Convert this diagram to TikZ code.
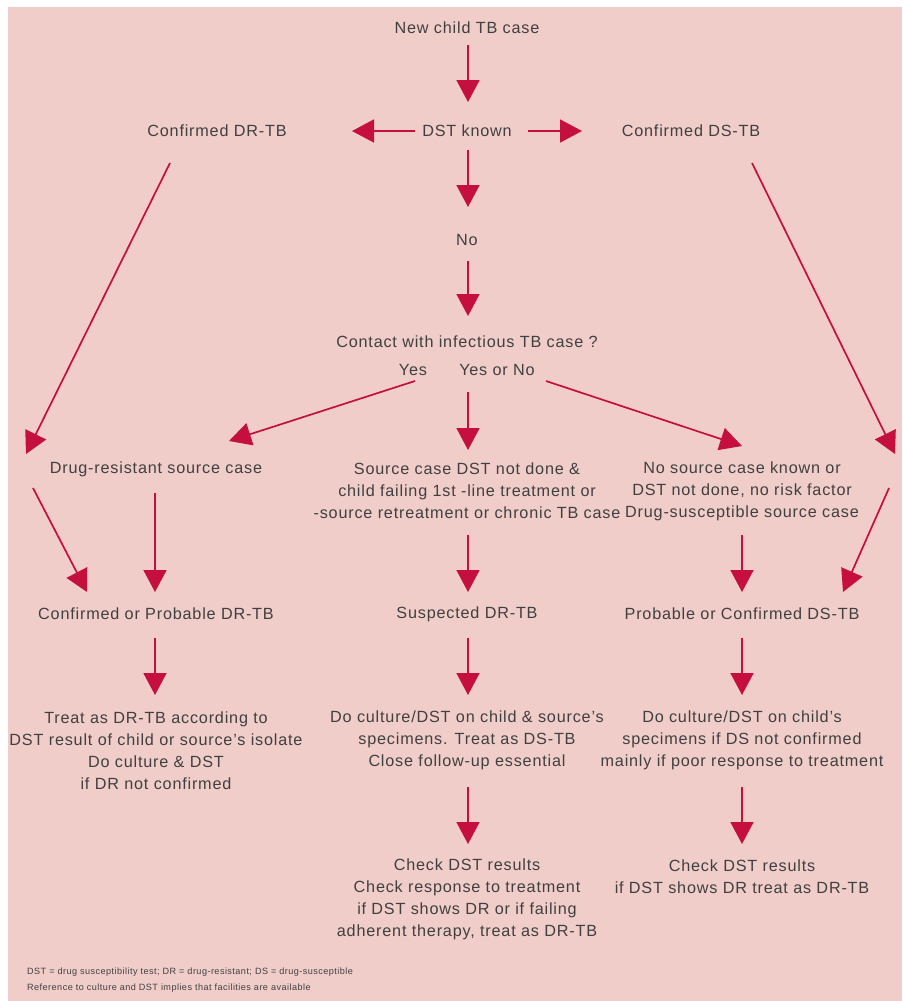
\documentclass[tikz,border=0pt]{standalone}
\usepackage{fontspec}
\setmainfont{Liberation Sans}[LetterSpace=5]
\usetikzlibrary{arrows.meta,calc}
\definecolor{bgpink}{HTML}{F0CDC9}
\definecolor{arrred}{HTML}{C40F3F}
\definecolor{txtgray}{HTML}{404040}
\begin{document}
\begin{tikzpicture}[x=1pt,y=-1pt,
  lbl/.style={text=txtgray,font=\fontsize{16.2}{22}\selectfont,inner sep=0pt,align=center},
  foot/.style={text=txtgray,font=\fontsize{9.1}{16}\selectfont,inner sep=0pt,align=left},
  arr/.style={draw=arrred,line width=1.7pt,-{Triangle[length=22pt,width=23pt]}}]
\useasboundingbox (0,0) rectangle (902,1001);
\fill[bgpink] (8,7) rectangle (902,1001);

\node[lbl] (new) at (467,28) {New child TB case};
\node[lbl] (dst) at (467,131) {DST known};
\node[lbl] (cdr) at (217,131) {Confirmed DR-TB};
\node[lbl] (cds) at (691,131) {Confirmed DS-TB};
\node[lbl] (no) at (467,240) {No};
\node[lbl] (contact) at (467,342) {Contact with infectious TB case ?};
\node[lbl] (yes) at (413,370) {Yes};
\node[lbl] (yesno) at (497,370) {Yes or No};
\node[lbl] (drs) at (156,469) {Drug-resistant source case};
\node[lbl] (sc) at (467,491) {Source case DST not done \&\\child failing 1st -line treatment or\\-source retreatment or chronic TB case};
\node[lbl] (nsc) at (742,491) {No source case known or\\DST not done, no risk factor\\Drug-susceptible source case};
\node[lbl] (cpdr) at (156,614) {Confirmed or Probable DR-TB};
\node[lbl] (sdr) at (467,614) {Suspected DR-TB};
\node[lbl] (pcds) at (742,614) {Probable or Confirmed DS-TB};
\node[lbl] (treat) at (156,751) {Treat as DR-TB according to\\DST result of child or source's isolate\\Do culture \& DST\\if DR not confirmed};
\node[lbl] (doc1) at (467,740) {Do culture/DST on child \& source's\\specimens. Treat as DS-TB\\Close follow-up essential};
\node[lbl] (doc2) at (742,740) {Do culture/DST on child's\\specimens if DS not confirmed\\mainly if poor response to treatment};
\node[lbl] (chk1) at (467,899) {Check DST results\\Check response to treatment\\if DST shows DR or if failing\\adherent therapy, treat as DR-TB};
\node[lbl] (chk2) at (742,877) {Check DST results\\if DST shows DR treat as DR-TB};
\node[foot,anchor=west] (fn) at (27,980) {DST = drug susceptibility test; DR = drug-resistant; DS = drug-susceptible\\Reference to culture and DST implies that facilities are available};

\draw[arr] ($(new)+(1,17)$) -- ($(dst)+(1,-29)$);
\draw[arr] ($(dst)+(-52,0)$) -- ($(cdr)+(135,0)$);
\draw[arr] ($(dst)+(61,0)$) -- ($(cds)+(-109,0)$);
\draw[arr] ($(dst)+(1,19)$) -- ($(no)+(1,-33)$);
\draw[arr] ($(no)+(1,21)$) -- ($(contact)+(1,-26)$);
\draw[arr] ($(yes)+(2,11)$) -- ($(drs)+(73,-28)$);
\draw[arr] ($(yesno)+(-29,22)$) -- ($(sc)+(1,-41)$);
\draw[arr] ($(yesno)+(49,11)$) -- ($(nsc)+(0,-45)$);
\draw[arr] ($(cdr)+(-47,32)$) -- ($(drs)+(-130,-15)$);
\draw[arr] ($(cds)+(61,32)$) -- ($(nsc)+(153,-37)$);
\draw[arr] ($(drs)+(-123,19)$) -- ($(cpdr)+(-69,-22)$);
\draw[arr] ($(drs)+(-1,24)$) -- ($(cpdr)+(-1,-22)$);
\draw[arr] ($(sc)+(1,44)$) -- ($(sdr)+(1,-22)$);
\draw[arr] ($(nsc)+(0,44)$) -- ($(pcds)+(0,-22)$);
\draw[arr] ($(nsc)+(147,-3)$) -- ($(pcds)+(101,-22)$);
\draw[arr] ($(cpdr)+(-1,24)$) -- ($(treat)+(-1,-56)$);
\draw[arr] ($(sdr)+(1,24)$) -- ($(doc1)+(1,-45)$);
\draw[arr] ($(pcds)+(0,24)$) -- ($(doc2)+(0,-45)$);
\draw[arr] ($(doc1)+(1,47)$) -- ($(chk1)+(1,-55)$);
\draw[arr] ($(doc2)+(0,47)$) -- ($(chk2)+(0,-33)$);
\end{tikzpicture}
\end{document}
